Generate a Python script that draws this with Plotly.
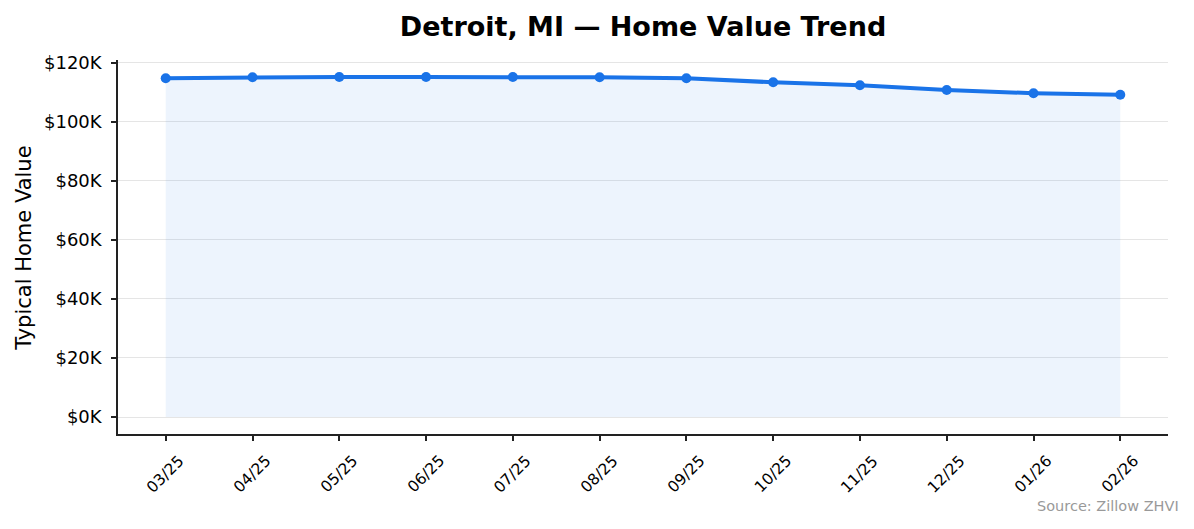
import plotly.graph_objects as go

## DATA ##
months = ['03/25', '04/25', '05/25', '06/25', '07/25', '08/25',
          '09/25', '10/25', '11/25', '12/25', '01/26', '02/26']
home_values = [114800, 115100, 115200, 115200, 115200, 115100,
               114800, 113400, 112400, 110800, 109700, 109200]
y_ticks = [0, 20000, 40000, 60000, 80000, 100000, 120000]
y_tick_labels = [f"${v // 1000}K" for v in y_ticks]

line_color = '#1a73e8'
## FIGURE / PLOT AREA IN PIXELS (page body adds an 8px offset) ##
W, H = 1186, 521
L, R, T, B = 110, 26, 52, 95
plot_h = H - T - B
plot_w = W - L - R
bottom = H - B

fig = go.Figure()
## FILLED AREA + LINE ##
fig.add_trace(go.Scatter(
    x=list(range(len(months))), y=home_values,
    mode='lines+markers',
    line=dict(color=line_color, width=4),
    marker=dict(color=line_color, size=10),
    fill='tozeroy', fillcolor='rgba(26,115,232,0.08)',
    hoverinfo='skip', showlegend=False,
))

ymax = max(home_values)
pad = ymax * 0.05
fig.update_layout(
    width=W, height=H,
    margin=dict(l=L, r=R, t=T, b=B),
    paper_bgcolor='white', plot_bgcolor='white',
    font=dict(family='DejaVu Sans', color='black'),
    title=dict(text='<b>Detroit, MI — Home Value Trend</b>',
               x=(L + W - R) / 2 / W, xanchor='center',
               y=1 - 19 / H, yanchor='middle',
               font=dict(size=27, color='black')),
)
fig.update_xaxes(
    range=[-0.55, len(months) - 1 + 0.55],
    tickmode='array', tickvals=list(range(len(months))),
    showticklabels=False, automargin=False,
    showgrid=False, zeroline=False,
    showline=True, linecolor='#222', linewidth=1.5,
    ticks='outside', ticklen=5, tickwidth=1.5, tickcolor='#222',
)
fig.update_yaxes(
    range=[-pad, ymax + pad],
    tickmode='array', tickvals=y_ticks, ticktext=y_tick_labels,
    tickfont=dict(size=18), ticklabelstandoff=6, automargin=False,
    showgrid=True, gridcolor='rgba(0,0,0,0.1)', gridwidth=1,
    zeroline=False,
    showline=True, linecolor='#222', linewidth=1.5,
    ticks='outside', ticklen=5, tickwidth=1.5, tickcolor='#222',
)
## Y AXIS TITLE ##
fig.add_annotation(
    text='Typical Home Value', xref='paper', yref='paper',
    x=(16 - L) / plot_w, xanchor='center', y=0.495, yanchor='middle',
    textangle=-90, showarrow=False, font=dict(size=21),
)
## ROTATED X TICK LABELS, CENTERED UNDER EACH TICK ##
for i, m in enumerate(months):
    fig.add_annotation(
        text=m, x=i, xref='x', xanchor='center',
        y=-15 / plot_h, yref='paper', yanchor='top',
        textangle=-45, showarrow=False, font=dict(size=15.5),
    )
## SOURCE NOTE ##
fig.add_annotation(
    text='Source: Zillow ZHVI', xref='paper', yref='paper',
    x=1 + 13 / plot_w, xanchor='right',
    y=-(498 - bottom) / plot_h, yanchor='middle',
    showarrow=False, font=dict(size=14.5, color='#999999'),
)

fig.write_html("out.html")
